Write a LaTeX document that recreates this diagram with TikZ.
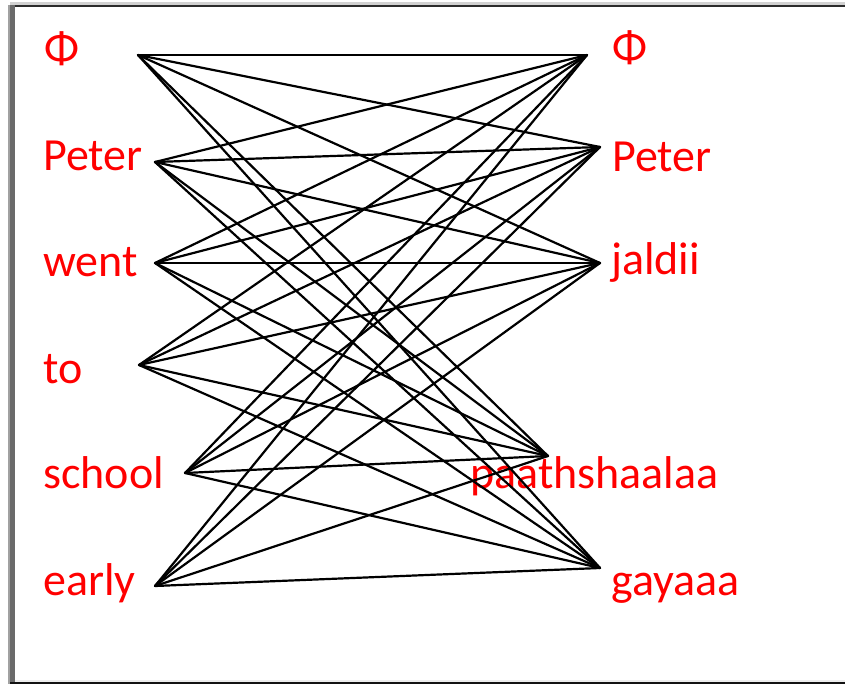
\documentclass[tikz,border=0pt]{standalone}
\usepackage{fontspec}
\setmainfont{Carlito}
\definecolor{wordred}{HTML}{FF0000}
\definecolor{framedark}{HTML}{2B2B2B}
\definecolor{frameside}{HTML}{6A6A6A}
\begin{document}
\begin{tikzpicture}[x=1pt,y=-1pt,
  word/.style={anchor=base west,inner sep=0pt,text=wordred,font=\fontsize{46}{46}\selectfont},
  link/.style={black,line width=2.2pt,line cap=round}]
\useasboundingbox (0,0) rectangle (845,684);
% frame of the slide
\fill[fill=black!18] (10,2) rectangle (845,5);
\fill[fill=framedark] (10,5) rectangle (845,7.5);
\fill[fill=black!37] (8,5) rectangle (10,684);
\fill[fill=frameside] (10,5) rectangle (15,684);
\fill[fill=black!7] (15,679.5) rectangle (845,682);
\fill[fill=black!93] (10,682) rectangle (845,684);
% source words
\node[word] (sPhi)    at (44,64)  {Φ};
\node[word] (sPeter)  at (43,171) {Peter};
\node[word] (sWent)   at (43,277) {went};
\node[word] (sTo)     at (43,383) {to};
\node[word] (sSchool) at (43,488) {school};
\node[word] (sEarly)  at (43,595) {early};
% target words
\node[word] (tPhi)    at (612,63)  {Φ};
\node[word] (tPeter)  at (612,172) {Peter};
\node[word] (tJaldii) at (611,275) {jaldii};
\node[word] (tPaath)  at (470,488) {paathshaalaa};
\node[word] (tGayaaa) at (611,595) {gayaaa};
% line ends
\coordinate (a1) at (138,55);
\coordinate (a2) at (155,162);
\coordinate (a3) at (155,263);
\coordinate (a4) at (139,365);
\coordinate (a5) at (185,473);
\coordinate (a6) at (155,586);
\coordinate (b1) at (587,55);
\coordinate (b2) at (600,147);
\coordinate (b3) at (600,263);
\coordinate (b4) at (548,456);
\coordinate (b5) at (600,568);
% every alignment between source and target
\foreach \i in {1,...,6}
  \foreach \j in {1,...,5}
    \draw[link] (a\i) -- (b\j);
\end{tikzpicture}
\end{document}
